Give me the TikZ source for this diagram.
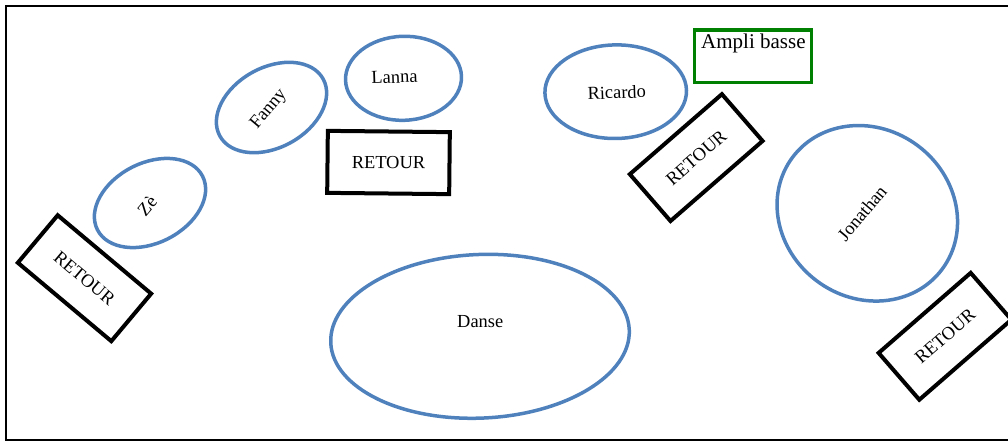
\documentclass[tikz,border=0pt]{standalone}
\usepackage{fontspec}
\setmainfont{Liberation Serif}
\usetikzlibrary{shapes.geometric}
\definecolor{seatblue}{RGB}{79,129,189}
\definecolor{amplgreen}{RGB}{0,128,0}
\begin{document}
\begin{tikzpicture}[x=1pt,y=-1pt,
  seat/.style={draw=seatblue,line width=3.5pt,ellipse,inner sep=0pt,outer sep=0pt},
  retourbox/.style={draw=black,line width=4pt,rectangle,minimum width=122pt,minimum height=62pt,inner sep=0pt,font=\fontsize{18.4}{22}\selectfont},
  lbl/.style={inner sep=0pt,font=\fontsize{18.4}{22}\selectfont}]
\useasboundingbox (0,0) rectangle (1008,441);
\clip (0,0) rectangle (1008,441);
\draw[line width=1.7pt] (6,6) rectangle (1014,440);
% ellipses
\node[seat,minimum width=118pt,minimum height=80pt,rotate=27] (ze) at (150,203) {};
\node[lbl,rotate=50] (zet) at (147,206) {Zè};
\node[seat,minimum width=118pt,minimum height=80pt,rotate=29] (fanny) at (271.5,107.5) {};
\node[lbl,rotate=50] (fannyt) at (269,109) {Fanny};
\node[seat,minimum width=116pt,minimum height=84pt,rotate=2] (lanna) at (403.5,78.3) {};
\node[lbl,rotate=2] (lannat) at (394.5,77) {Lanna};
\node[seat,minimum width=141.6pt,minimum height=93.6pt,rotate=1] (ricardo) at (615.7,91.7) {};
\node[lbl,rotate=2] (ricardot) at (616.7,92.3) {Ricardo};
\node[seat,minimum width=168.8pt,minimum height=186.8pt,rotate=53] (jonathan) at (867.3,213.3) {};
\node[lbl,rotate=50] (jonathant) at (862,213) {Jonathan};
\node[seat,minimum width=298.8pt,minimum height=163.6pt,rotate=2.5] (danse) at (480,336.3) {};
\node[lbl] (danset) at (480.2,321.7) {Danse};
% retour boxes
\node[retourbox,rotate=-40] (r1) at (84.5,278.2) {RETOUR};
\node[retourbox,rotate=-0.6] (r2) at (388.5,162.5) {RETOUR};
\node[retourbox,rotate=41] (r3) at (696.2,157.6) {RETOUR};
\node[retourbox,rotate=41] (r4) at (945,336.3) {RETOUR};
% ampli
\node[draw=amplgreen,line width=3.3pt,rectangle,minimum width=117pt,minimum height=52.5pt,inner sep=0pt] (ampli) at (753.3,56.25) {};
\node[inner sep=0pt,anchor=base west,font=\fontsize{21}{25}\selectfont] (amplit) at (701,48.3) {Ampli basse};
\end{tikzpicture}
\end{document}
